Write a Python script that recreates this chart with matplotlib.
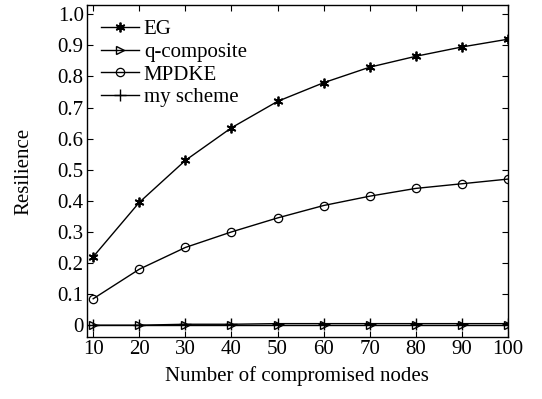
import matplotlib
matplotlib.use("Agg")
import matplotlib.pyplot as plt

nodes = [10, 20, 30, 40, 50, 60, 70, 80, 90, 100]
eg = [0.22, 0.395, 0.53, 0.635, 0.72, 0.78, 0.83, 0.865, 0.895, 0.92]
q_composite = [0.0, 0.0, 0.0, 0.0, 0.0, 0.0, 0.0, 0.0, 0.0, 0.0]
mpdke = [0.085, 0.18, 0.25, 0.30, 0.345, 0.385, 0.415, 0.44, 0.455, 0.47]
my_scheme = [0.0, 0.0, 0.003, 0.003, 0.005, 0.005, 0.005, 0.005, 0.005, 0.005]

plt.rcParams["font.family"] = ["Liberation Serif", "DejaVu Serif"]
plt.rcParams["font.size"] = 15

fig = plt.figure(figsize=(5.42, 3.99), dpi=100)
ax = fig.add_axes([86.5 / 542, 1 - 337 / 399, (508 - 86.5) / 542, (337 - 5) / 399])

lw = 1.0
ax.plot(nodes, eg, color="black", lw=lw, marker=(6, 2, 0), ms=7, mew=1.3, label="EG")
ax.plot(nodes, q_composite, color="black", lw=lw, marker=">", ms=6, mfc="none", mew=1.0, label="q-composite")
ax.plot(nodes, mpdke, color="black", lw=lw, marker="o", ms=6, mfc="none", mew=0.9, label="MPDKE")
ax.plot(nodes, my_scheme, color="black", lw=lw, marker="+", ms=8, mew=1.0, label="my scheme")

ax.set_xlim(8.55, 100)
ax.set_ylim(-0.038, 1.03)
ax.set_xticks(nodes)
ax.set_yticks([0, 0.1, 0.2, 0.3, 0.4, 0.5, 0.6, 0.7, 0.8, 0.9, 1.0])
ax.set_yticklabels(["0", "0.1", "0.2", "0.3", "0.4", "0.5", "0.6", "0.7", "0.8", "0.9", "1.0"])
ax.tick_params(direction="in", top=True, right=True, length=4, width=0.8, colors="black", pad=2)
for s in ax.spines.values():
    s.set_linewidth(1.0)

ax.set_xlabel("Number of compromised nodes", labelpad=5)
ax.set_ylabel("Resilience")
ax.yaxis.set_label_coords(-0.125, 0.5)

ax.legend(loc="upper left", frameon=False, handlelength=1.8, handletextpad=0.25,
          labelspacing=0.15, borderaxespad=0.3, bbox_to_anchor=(0.0, 1.0))

fig.savefig("out.png", dpi=100)
